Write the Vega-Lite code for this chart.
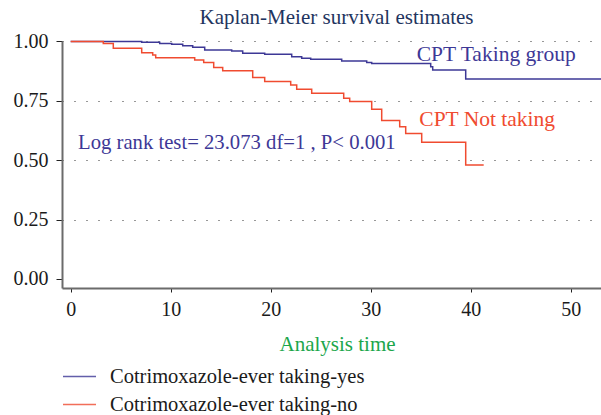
{
  "$schema": "https://vega.github.io/schema/vega-lite/v6.json",
  "width": 539,
  "height": 247,
  "autosize": "none",
  "padding": {"left": 62, "top": 41, "right": 0, "bottom": 127},
  "background": "white",
  "config": {
    "font": "Liberation Serif",
    "view": {"stroke": null}
  },
  "datasets": {
    "km": [
      {"group": "Cotrimoxazole-ever taking-yes", "t": 0, "s": 1.0},
      {"group": "Cotrimoxazole-ever taking-yes", "t": 7.1, "s": 0.997},
      {"group": "Cotrimoxazole-ever taking-yes", "t": 8.9, "s": 0.992},
      {"group": "Cotrimoxazole-ever taking-yes", "t": 10.1, "s": 0.988},
      {"group": "Cotrimoxazole-ever taking-yes", "t": 11.2, "s": 0.982},
      {"group": "Cotrimoxazole-ever taking-yes", "t": 12.2, "s": 0.976},
      {"group": "Cotrimoxazole-ever taking-yes", "t": 13.4, "s": 0.964},
      {"group": "Cotrimoxazole-ever taking-yes", "t": 16.1, "s": 0.96},
      {"group": "Cotrimoxazole-ever taking-yes", "t": 17.2, "s": 0.95},
      {"group": "Cotrimoxazole-ever taking-yes", "t": 19.4, "s": 0.946},
      {"group": "Cotrimoxazole-ever taking-yes", "t": 22.1, "s": 0.936},
      {"group": "Cotrimoxazole-ever taking-yes", "t": 23.1, "s": 0.929},
      {"group": "Cotrimoxazole-ever taking-yes", "t": 24.0, "s": 0.925},
      {"group": "Cotrimoxazole-ever taking-yes", "t": 27.1, "s": 0.918},
      {"group": "Cotrimoxazole-ever taking-yes", "t": 29.6, "s": 0.912},
      {"group": "Cotrimoxazole-ever taking-yes", "t": 30.1, "s": 0.907},
      {"group": "Cotrimoxazole-ever taking-yes", "t": 36.0, "s": 0.894},
      {"group": "Cotrimoxazole-ever taking-yes", "t": 36.2, "s": 0.88},
      {"group": "Cotrimoxazole-ever taking-yes", "t": 39.5, "s": 0.842},
      {"group": "Cotrimoxazole-ever taking-yes", "t": 53.1, "s": 0.842},
      {"group": "Cotrimoxazole-ever taking-no", "t": 0, "s": 1.0},
      {"group": "Cotrimoxazole-ever taking-no", "t": 3.26, "s": 0.991},
      {"group": "Cotrimoxazole-ever taking-no", "t": 4.26, "s": 0.971},
      {"group": "Cotrimoxazole-ever taking-no", "t": 7.1, "s": 0.953},
      {"group": "Cotrimoxazole-ever taking-no", "t": 8.2, "s": 0.943},
      {"group": "Cotrimoxazole-ever taking-no", "t": 8.5, "s": 0.932},
      {"group": "Cotrimoxazole-ever taking-no", "t": 12.4, "s": 0.922},
      {"group": "Cotrimoxazole-ever taking-no", "t": 13.3, "s": 0.911},
      {"group": "Cotrimoxazole-ever taking-no", "t": 14.3, "s": 0.89},
      {"group": "Cotrimoxazole-ever taking-no", "t": 15.2, "s": 0.877},
      {"group": "Cotrimoxazole-ever taking-no", "t": 18.2, "s": 0.848},
      {"group": "Cotrimoxazole-ever taking-no", "t": 19.4, "s": 0.831},
      {"group": "Cotrimoxazole-ever taking-no", "t": 22.0, "s": 0.817},
      {"group": "Cotrimoxazole-ever taking-no", "t": 22.6, "s": 0.799},
      {"group": "Cotrimoxazole-ever taking-no", "t": 24.1, "s": 0.782},
      {"group": "Cotrimoxazole-ever taking-no", "t": 27.3, "s": 0.761},
      {"group": "Cotrimoxazole-ever taking-no", "t": 27.9, "s": 0.747},
      {"group": "Cotrimoxazole-ever taking-no", "t": 30.1, "s": 0.715},
      {"group": "Cotrimoxazole-ever taking-no", "t": 31.1, "s": 0.667},
      {"group": "Cotrimoxazole-ever taking-no", "t": 32.9, "s": 0.641},
      {"group": "Cotrimoxazole-ever taking-no", "t": 33.5, "s": 0.613},
      {"group": "Cotrimoxazole-ever taking-no", "t": 35.1, "s": 0.576},
      {"group": "Cotrimoxazole-ever taking-no", "t": 39.5, "s": 0.48},
      {"group": "Cotrimoxazole-ever taking-no", "t": 41.3, "s": 0.48}
    ],
    "groupNotes": [
      {"label": "CPT Taking group", "t": 34.6, "s": 0.918, "kind": "yes"},
      {"label": "CPT Not taking", "t": 34.86, "s": 0.644, "kind": "no"}
    ],
    "testNote": [
      {"label": "Log rank test= 23.073 df=1 , P< 0.001", "t": 0.73, "s": 0.547}
    ],
    "titleNote": [
      {"label": "Kaplan-Meier survival estimates", "t": 26.58, "s": 1.075}
    ]
  },
  "layer": [
    {
      "data": {"name": "km"},
      "mark": {"type": "line", "interpolate": "step-after", "strokeWidth": 1.5, "clip": false},
      "encoding": {
        "x": {
          "field": "t",
          "type": "quantitative",
          "scale": {"domain": [-0.87, 53.03], "nice": false, "zero": false},
          "axis": {
            "values": [0, 10, 20, 30, 40, 50],
            "title": "Analysis time",
            "titleColor": "#1ba64b",
            "titleFont": "Liberation Serif",
            "titleFontSize": 21,
            "titleFontWeight": "normal",
            "titleBaseline": "alphabetic",
            "titleX": 275,
            "titleY": 62,
            "labelFont": "Liberation Serif",
            "labelFontSize": 20,
            "labelColor": "#1a1a1a",
            "labelPadding": 7,
            "tickSize": 4,
            "tickColor": "#222",
            "domainColor": "#6b6b6b",
            "domainWidth": 2,
            "grid": false
          }
        },
        "y": {
          "field": "s",
          "type": "quantitative",
          "scale": {"domain": [-0.038, 1.002], "nice": false, "zero": false},
          "axis": {
            "values": [0, 0.25, 0.5, 0.75, 1],
            "format": ".2f",
            "title": null,
            "labelFont": "Liberation Serif",
            "labelFontSize": 20,
            "labelColor": "#1a1a1a",
            "labelPadding": 8,
            "tickSize": 6,
            "tickColor": "#222",
            "domainColor": "#6b6b6b",
            "domainWidth": 2,
            "grid": true,
            "gridColor": "#333",
            "gridDash": [1, 11],
            "gridWidth": 1.2,
            "gridOpacity": {"condition": {"test": "datum.value == 0", "value": 0}, "value": 1}
          }
        },
        "color": {
          "field": "group",
          "type": "nominal",
          "scale": {
            "domain": ["Cotrimoxazole-ever taking-yes", "Cotrimoxazole-ever taking-no"],
            "range": ["#3d3896", "#f04b30"]
          },
          "legend": {
            "orient": "none",
            "legendX": 0,
            "legendY": 318,
            "title": null,
            "symbolType": "stroke",
            "symbolSize": 1089,
            "symbolStrokeWidth": 1.3,
            "symbolOpacity": 0.8,
            "labelFont": "Liberation Serif",
            "labelFontSize": 20.5,
            "labelLimit": 500,
            "labelColor": "#1a1a1a",
            "labelOffset": 13,
            "rowPadding": -7,
            "padding": 0
          }
        }
      }
    },
    {
      "data": {"name": "groupNotes"},
      "mark": {"type": "text", "align": "left", "baseline": "alphabetic", "font": "Liberation Serif", "fontSize": 21.5, "clip": false},
      "encoding": {
        "x": {"field": "t", "type": "quantitative"},
        "y": {"field": "s", "type": "quantitative"},
        "text": {"field": "label"},
        "color": {
          "field": "kind",
          "type": "nominal",
          "scale": {"domain": ["yes", "no"], "range": ["#3d3896", "#f04b30"]},
          "legend": null
        }
      }
    },
    {
      "data": {"name": "testNote"},
      "mark": {"type": "text", "align": "left", "baseline": "alphabetic", "font": "Liberation Serif", "fontSize": 20.7, "color": "#3d3896", "clip": false},
      "encoding": {
        "x": {"field": "t", "type": "quantitative"},
        "y": {"field": "s", "type": "quantitative"},
        "text": {"field": "label"}
      }
    },
    {
      "data": {"name": "titleNote"},
      "mark": {"type": "text", "align": "center", "baseline": "alphabetic", "font": "Liberation Serif", "fontSize": 21, "color": "#1f3560", "clip": false},
      "encoding": {
        "x": {"field": "t", "type": "quantitative"},
        "y": {"field": "s", "type": "quantitative"},
        "text": {"field": "label"}
      }
    }
  ],
  "resolve": {"scale": {"color": "independent"}}
}
